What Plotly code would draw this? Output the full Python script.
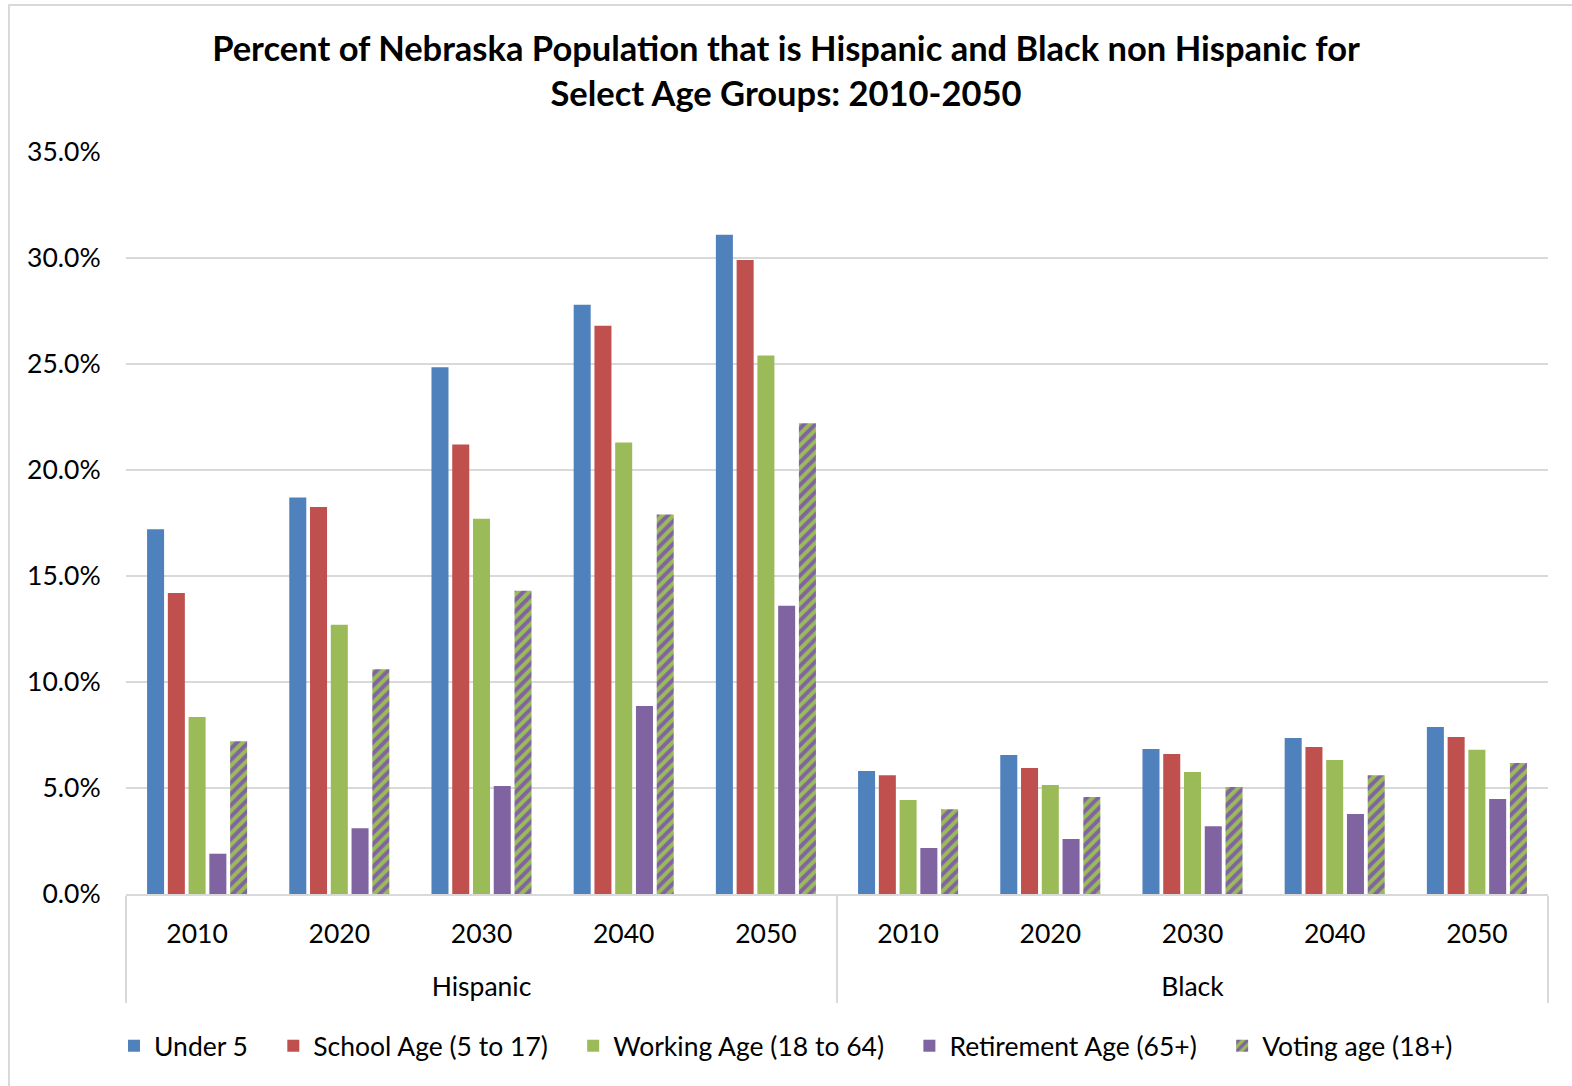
import plotly.graph_objects as go

# Population groups and projection years
group_names = ["Hispanic", "Black"]
year_labels = ["2010", "2020", "2030", "2040", "2050"]

# Percent of Nebraska population in each age group
under_5 = [17.2, 18.7, 24.85, 27.8, 31.1, 5.8, 6.56, 6.84, 7.36, 7.88]
school_age = [14.2, 18.25, 21.2, 26.8, 29.9, 5.6, 5.94, 6.6, 6.93, 7.4]
working_age = [8.35, 12.7, 17.7, 21.3, 25.4, 4.43, 5.14, 5.75, 6.32, 6.8]
retirement_age = [1.9, 3.1, 5.1, 8.87, 13.6, 2.17, 2.6, 3.2, 3.77, 4.48]
voting_age = [7.2, 10.6, 14.3, 17.9, 22.2, 4.0, 4.58, 5.05, 5.6, 6.18]

# Two-level category axis: group label (pushed a line lower) and year
groups = ["<br>" + g for g in group_names for _ in year_labels]
years = year_labels * len(group_names)

series = [
    ("Under 5", under_5, "#4F81BD", None),
    ("School Age (5 to 17)", school_age, "#C0504D", None),
    ("Working Age (18 to 64)", working_age, "#9BBB59", None),
    ("Retirement Age (65+)", retirement_age, "#8064A2", None),
    ("Voting age (18+)", voting_age, "#9BBB59",
     dict(shape="/", bgcolor="#9BBB59", fgcolor="#8064A2", size=8, solidity=0.5, fillmode="replace")),
]

FONT = "Lato"
TICK_SIZE = 26.5
LEGEND_PAD = "\u00a0" * 3  # extra room between legend entries

fig = go.Figure()
for name, vals, color, pattern in series:
    marker = dict(color=color, line=dict(width=0))
    if pattern:
        marker["pattern"] = pattern
    fig.add_trace(go.Bar(name=name + LEGEND_PAD, x=[groups, years], y=vals, marker=marker))

fig.update_layout(
    width=1572,
    height=1086,
    paper_bgcolor="white",
    plot_bgcolor="white",
    barmode="group",
    bargap=0.27,
    bargroupgap=0.18,
    margin=dict(l=126, r=24, t=152, b=192, autoexpand=False),
    font=dict(family=FONT, size=TICK_SIZE, color="#000000"),
    title=dict(
        text="<b>Percent of Nebraska Population that is Hispanic and Black non Hispanic for<br>Select Age Groups: 2010-2050</b>",
        x=0.5,
        xanchor="center",
        y=1 - 61 / 1086,
        yanchor="top",
        font=dict(family=FONT, size=34.5, color="#000000"),
    ),
    legend=dict(
        orientation="h",
        xref="container",
        x=114 / 1572,
        xanchor="left",
        yref="container",
        y=1 - 1046 / 1086,
        yanchor="middle",
        font=dict(family=FONT, size=TICK_SIZE),
        itemwidth=30,
        traceorder="normal",
    ),
    xaxis=dict(
        type="multicategory",
        automargin=False,
        showline=True,
        linecolor="#D9D9D9",
        linewidth=2,
        showdividers=True,
        dividercolor="#D9D9D9",
        dividerwidth=2,
        ticks="outside",
        ticklen=16,
        ticklabelstandoff=15,
        tickcolor="rgba(0,0,0,0)",
        tickfont=dict(family=FONT, size=TICK_SIZE),
    ),
    yaxis=dict(
        range=[0, 35],
        dtick=5,
        tickformat=".1f",
        ticksuffix="%",
        automargin=False,
        showgrid=True,
        gridcolor="#D9D9D9",
        gridwidth=2,
        zeroline=False,
        showline=False,
        ticks="outside",
        ticklen=19,
        tickcolor="rgba(0,0,0,0)",
        tickfont=dict(family=FONT, size=TICK_SIZE),
    ),
    shapes=[
        dict(type="rect", xref="paper", yref="paper",
             x0=-117 / 1422, x1=1.05, y0=-0.3, y1=1 + 147 / 742,
             line=dict(color="#D9D9D9", width=2), fillcolor="rgba(0,0,0,0)", layer="below"),
    ],
)

fig.write_html("out.html")
